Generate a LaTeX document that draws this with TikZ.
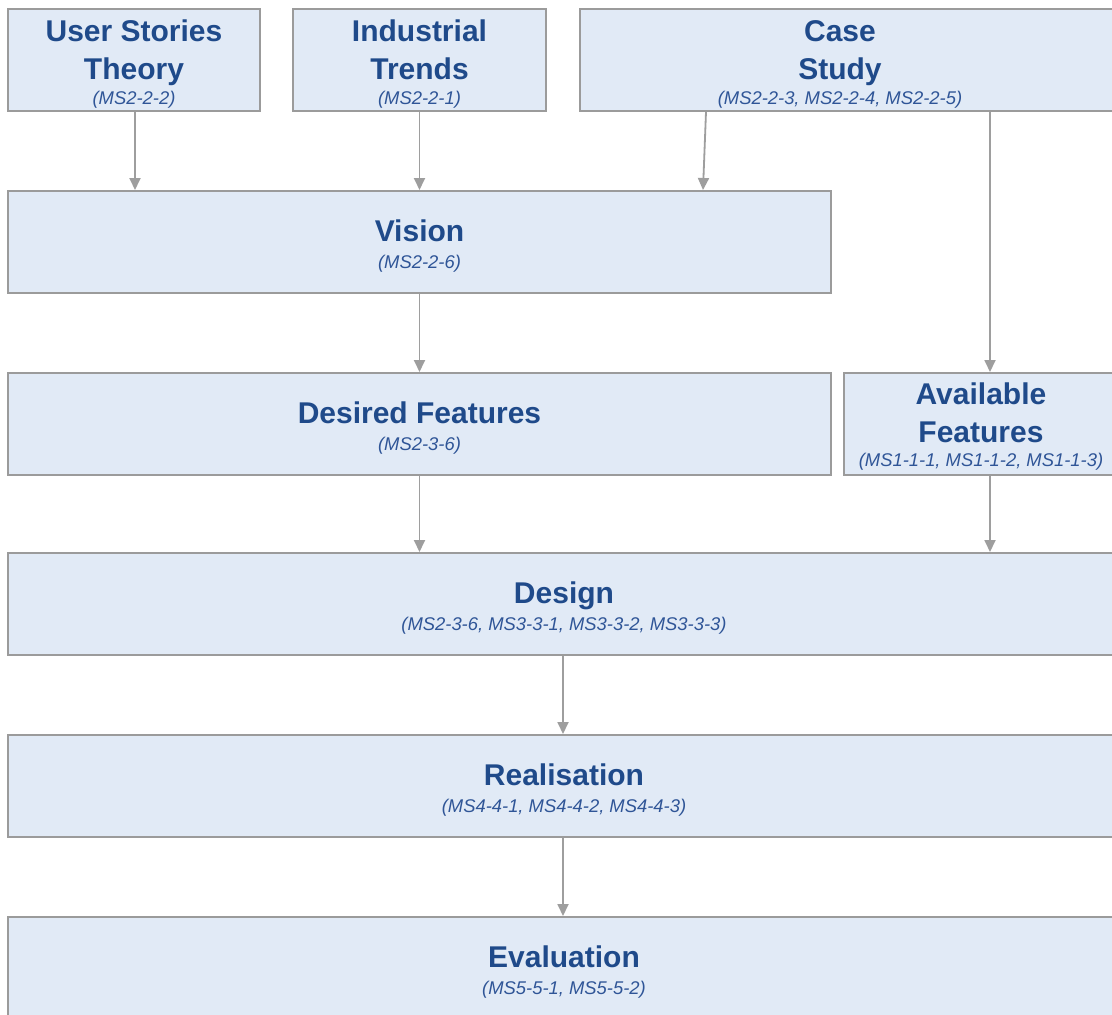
\documentclass[tikz,border=0pt]{standalone}
\usepackage{fontspec}
\setmainfont{Liberation Sans}
\usetikzlibrary{arrows.meta}

\definecolor{panelfill}{HTML}{E1EAF6}
\definecolor{panelline}{HTML}{9B9B9B}
\definecolor{inkblue}{HTML}{1F4A8A}
\definecolor{reflink}{HTML}{2F5597}
\definecolor{flowline}{HTML}{9E9E9E}

\newcommand\hdfont{\fontsize{30}{38}\selectfont\bfseries}
\newcommand\refont{\fontsize{18.4}{22}\selectfont\mdseries\itshape\color{reflink}}

\tikzset{
  panel/.style={draw=panelline, line width=2pt, fill=panelfill, inner sep=0pt,
    minimum height=102pt},
  caption/.style={align=center, text=inkblue, inner sep=0pt, font=\hdfont},
  flow/.style={draw=flowline, line width=1.8pt,
    -{Triangle[width=11pt,length=12pt]}}
}

\begin{document}
\begin{tikzpicture}[x=1pt, y=-1pt]
  \useasboundingbox (0,0) rectangle (1112,1015);
  \fill[white] (0,0) rectangle (1112,1015);

  % source panels
  \node[panel, minimum width=252pt] (ust) at (134,60) {};
  \node[panel, minimum width=253pt] (ind) at (419.5,60) {};
  \node[panel, minimum width=536pt] (cas) at (848,60) {};

  % middle panels
  \node[panel, minimum width=823pt] (vis) at (419.5,242) {};
  \node[panel, minimum width=823pt] (des) at (419.5,424) {};
  \node[panel, minimum width=272pt] (ava) at (980,424) {};

  % full-width panels
  \node[panel, minimum width=1112pt] (dsg) at (564,604) {};
  \node[panel, minimum width=1112pt] (rea) at (564,786) {};
  \node[panel, minimum width=1112pt] (eva) at (564,968) {};

  % captions
  \node[caption] (ust-t) at (134,64) {User Stories\\Theory\\[-13pt]{\refont (MS2-2-2)}};
  \node[caption] (ind-t) at (419.5,64) {Industrial\\Trends\\[-13pt]{\refont (MS2-2-1)}};
  \node[caption] (cas-t) at (840,64) {Case\\Study\\[-13pt]{\refont (MS2-2-3, MS2-2-4, MS2-2-5)}};
  \node[caption] (vis-t) at (419.5,246.5) {Vision\\[-11pt]{\refont (MS2-2-6)}};
  \node[caption] (des-t) at (419.5,428.5) {Desired Features\\[-11pt]{\refont (MS2-3-6)}};
  \node[caption] (ava-t) at (981,427) {Available\\Features\\[-14pt]{\refont (MS1-1-1, MS1-1-2, MS1-1-3)}};
  \node[caption] (dsg-t) at (564,608.5) {Design\\[-11pt]{\refont (MS2-3-6, MS3-3-1, MS3-3-2, MS3-3-3)}};
  \node[caption] (rea-t) at (564,790.5) {Realisation\\[-11pt]{\refont (MS4-4-1, MS4-4-2, MS4-4-3)}};
  \node[caption] (eva-t) at (564,972.5) {Evaluation\\[-11pt]{\refont (MS5-5-1, MS5-5-2)}};

  % connectors
  \draw[flow] ([xshift=1pt]ust.south) -- ([xshift=1pt]ust.south |- vis.north);
  \draw[flow] (ind.south) -- (ind.south |- vis.north);
  \draw[flow] ([xshift=-142pt]cas.south) -- ([xshift=283.5pt]vis.north);
  \draw[flow] ([xshift=142pt]cas.south) -- ([xshift=10pt]ava.north);
  \draw[flow] (vis.south) -- (des.north);
  \draw[flow] (des.south) -- (des.south |- dsg.north);
  \draw[flow] ([xshift=10pt]ava.south) -- ([xshift=10pt]ava.south |- dsg.north);
  \draw[flow] ([xshift=-1pt]dsg.south) -- ([xshift=-1pt]rea.north);
  \draw[flow] ([xshift=-1pt]rea.south) -- ([xshift=-1pt]eva.north);
\end{tikzpicture}
\end{document}
